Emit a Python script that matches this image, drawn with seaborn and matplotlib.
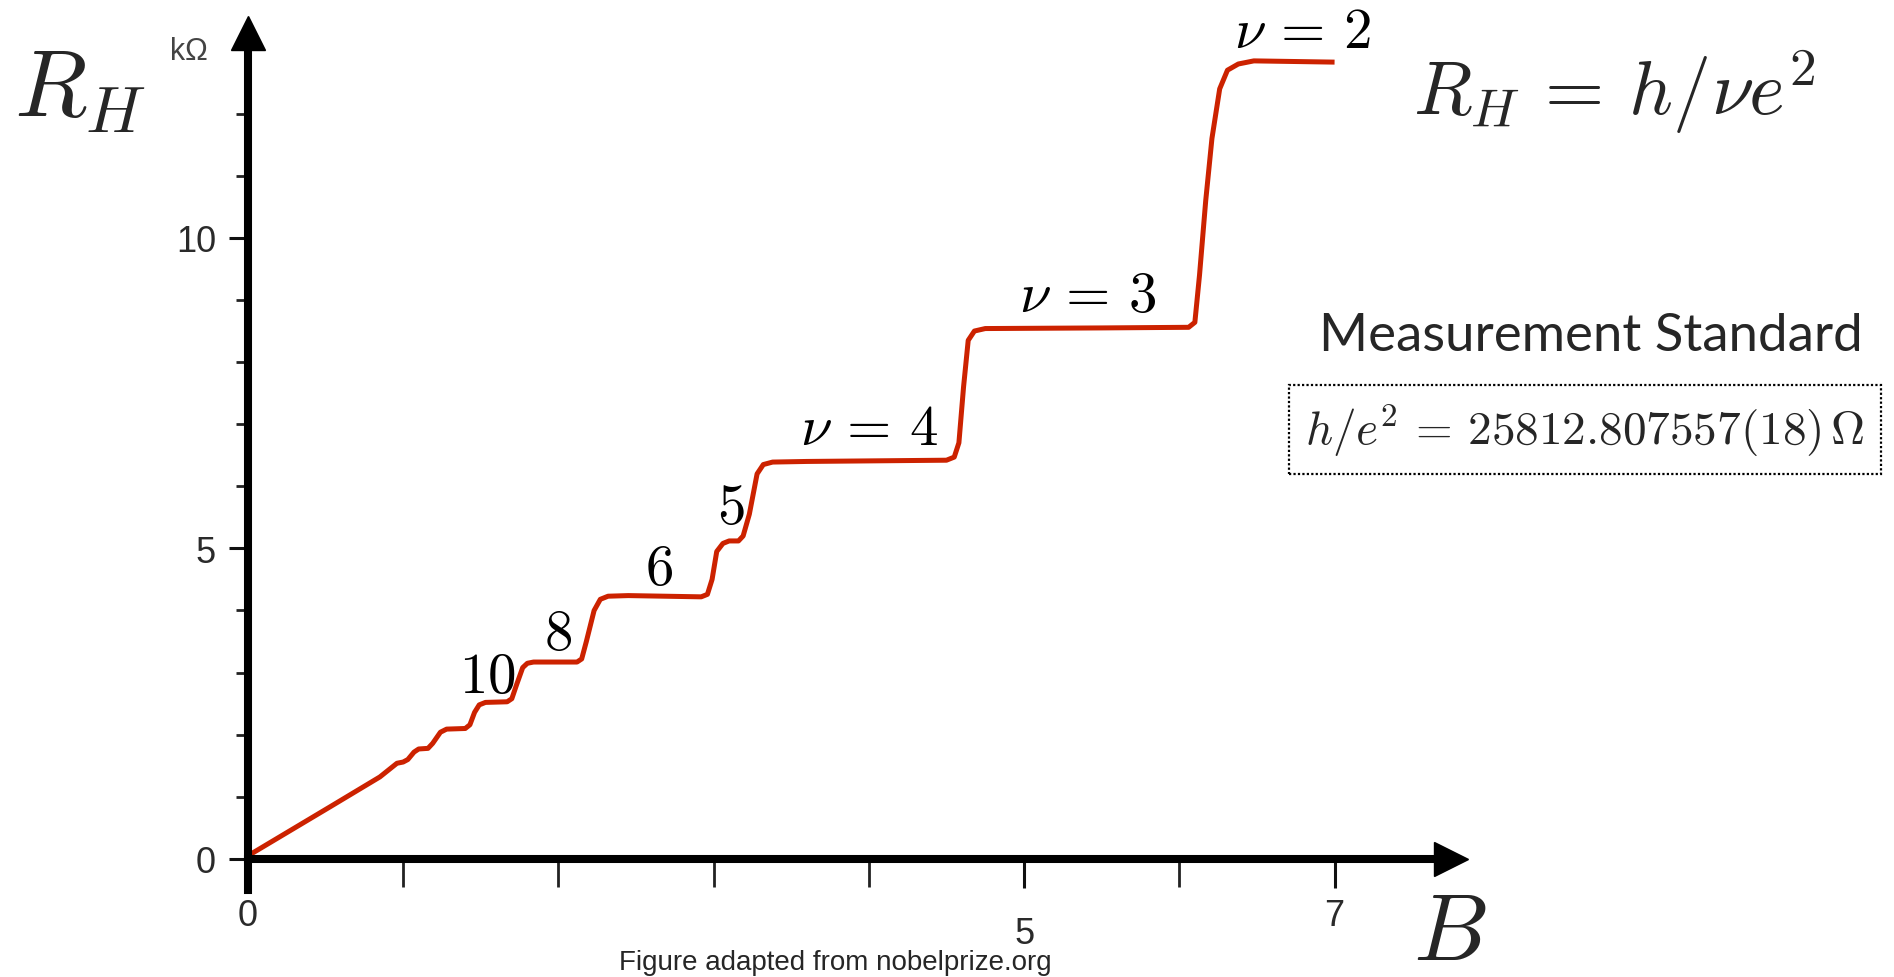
import matplotlib
matplotlib.use("Agg")
import matplotlib.pyplot as plt
import seaborn as sns
import pandas as pd

# Hall resistance trace (B in T, R_H in kOhm)
field_b = [0.00, 0.53, 0.85, 0.92, 0.96, 1.00, 1.03, 1.07, 1.10, 1.16, 1.19, 1.24,
           1.28, 1.40, 1.43, 1.46, 1.49, 1.53, 1.67, 1.70, 1.73, 1.77, 1.80, 1.84,
           2.12, 2.15, 2.18, 2.23, 2.27, 2.32, 2.45, 2.92, 2.96, 2.99, 3.02, 3.06,
           3.10, 3.16, 3.19, 3.23, 3.28, 3.32, 3.38, 3.60, 4.50, 4.55, 4.58, 4.61,
           4.64, 4.68, 4.75, 5.50, 6.06, 6.10, 6.13, 6.17, 6.21, 6.26, 6.31, 6.38,
           6.48, 7.00]
hall_r = [0.05, 0.84, 1.32, 1.46, 1.54, 1.56, 1.60, 1.72, 1.77, 1.78, 1.86, 2.04,
          2.09, 2.10, 2.16, 2.36, 2.48, 2.52, 2.53, 2.58, 2.80, 3.08, 3.15, 3.17,
          3.17, 3.22, 3.50, 4.00, 4.18, 4.23, 4.24, 4.22, 4.26, 4.50, 4.95, 5.08,
          5.12, 5.12, 5.20, 5.55, 6.20, 6.35, 6.39, 6.40, 6.42, 6.47, 6.70, 7.60,
          8.35, 8.50, 8.54, 8.55, 8.56, 8.64, 9.40, 10.60, 11.60, 12.40, 12.70, 12.80,
          12.85, 12.83]

plateau_labels = [r"$10$", r"$8$", r"$6$", r"$5$",
                  r"$\nu\,=\,4$", r"$\nu\,=\,3$", r"$\nu\,=\,2$"]

x_major = [0, 5, 7]
x_major_labels = ["0", "5", "7"]
x_minor = [1, 2, 3, 4, 6]
y_major = [0, 5, 10]
y_major_labels = ["0", "5", "10"]
y_minor = [1, 2, 3, 4, 6, 7, 8, 9, 11, 12]

df = pd.DataFrame({"B": field_b, "R": hall_r})

sns.set_style("white")
plt.rcParams["font.family"] = ["Liberation Sans", "DejaVu Sans"]
plt.rcParams["mathtext.fontset"] = "cm"

fig = plt.figure(figsize=(18.94, 9.78), dpi=100)
ax = fig.add_axes([0.1309, 0.0890, 0.6352, 0.8763])

sns.lineplot(data=df, x="B", y="R", color="#cc2200", linewidth=3.6, ax=ax,
             sort=False, solid_joinstyle="round", solid_capstyle="butt")

ax.set_xlim(0, 7.75)
ax.set_ylim(-0.5, 13.3)
ax.set_xlabel("")
ax.set_ylabel("")

# axes drawn as thick arrows
for side in ["top", "right"]:
    ax.spines[side].set_visible(False)
ax.spines["left"].set_linewidth(5.8)
ax.spines["bottom"].set_linewidth(5.8)
ax.spines["bottom"].set_position(("data", 0))
ax.spines["left"].set_color("black")
ax.spines["bottom"].set_color("black")
ax.plot(1, 0, marker=">", ms=24, color="black", transform=ax.get_yaxis_transform(), clip_on=False)
ax.plot(0, 1, marker="^", ms=24, color="black", transform=ax.get_xaxis_transform(), clip_on=False)

ax.set_xticks(x_major)
ax.set_xticklabels(x_major_labels)
ax.set_xticks(x_minor, minor=True)
ax.set_yticks(y_major)
ax.set_yticklabels(y_major_labels)
ax.set_yticks(y_minor, minor=True)
ax.tick_params(axis="both", which="both", bottom=True, left=True, direction="out")
ax.tick_params(axis="both", which="major", width=2.2, color="#111111",
               labelsize=26, labelcolor="#2a2a2a")
ax.tick_params(axis="both", which="minor", width=2.0, color="#222222")
ax.tick_params(axis="x", which="major", length=21, pad=7)
ax.tick_params(axis="x", which="minor", length=20)
ax.tick_params(axis="y", which="major", length=14, pad=9)
ax.tick_params(axis="y", which="minor", length=9)
five = ax.xaxis.get_major_ticks()[1]
five.tick1line.set_markersize(28)
five.set_pad(20)

# plateau labels
label_pos = [(1.54, 2.69), (2.00, 3.38), (2.65, 4.43), (3.11, 5.41),
             (4.00, 6.68), (5.41, 8.82), (6.79, 13.08)]
for txt, (bx, ry) in zip(plateau_labels, label_pos):
    ax.text(bx, ry, txt, fontsize=41, ha="center", va="baseline", color="black")

# big axis symbols and formulas
fig.text(0.0074, 0.880, r"$R_H$", fontsize=68, ha="left", va="baseline")
fig.text(0.746, 0.018, r"$B$", fontsize=68, ha="left", va="baseline")
fig.text(0.090, 0.939, "kΩ", fontsize=22, color="#444444", ha="left", va="baseline")
fig.text(0.746, 0.882, r"$R_H\,=\,h/\nu e^2$", fontsize=55, ha="left", va="baseline")
fig.text(0.840, 0.641, "Measurement Standard", fontsize=38, ha="center", va="baseline",
         family=["Lato", "DejaVu Sans"])
fig.text(0.837, 0.560, r"$h/e^2\,=\,25812.807557(18)\,\Omega$", fontsize=34,
         ha="center", va="center",
         bbox=dict(boxstyle="square,pad=0.34", facecolor="none", edgecolor="black",
                   linestyle=(0, (1, 1)), linewidth=1.6))
fig.text(0.441, 0.002, "Figure adapted from nobelprize.org", fontsize=20, ha="center",
         va="bottom", family=["Liberation Sans", "DejaVu Sans"])

fig.savefig("out.png", dpi=100)
plt.close(fig)
